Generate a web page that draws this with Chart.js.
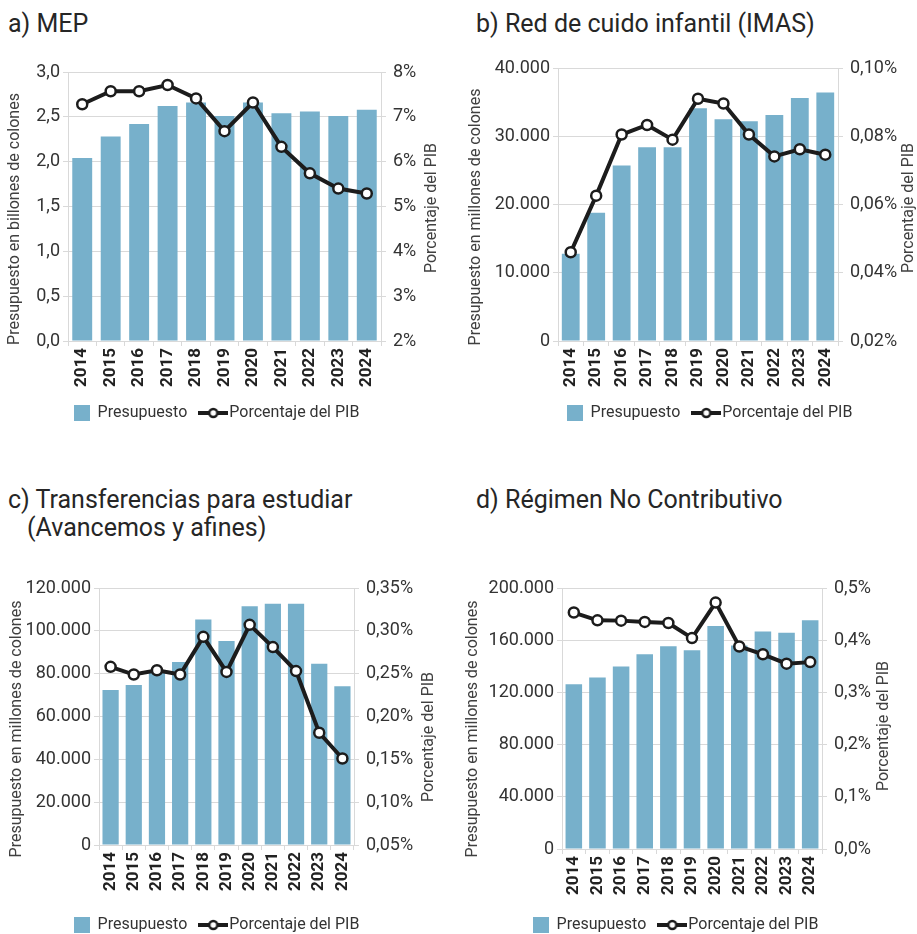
<!DOCTYPE html>
<html>
<head>
<meta charset="utf-8">
<script src="https://cdn.jsdelivr.net/npm/chart.js@4.4.1/dist/chart.umd.min.js"></script>
<style>
  html, body { margin: 0; padding: 0; background: #fff; overflow: hidden; }
  body { width: 917px; height: 934px; position: relative; font-family: Roboto, sans-serif; }
  .titulo { position: absolute; font-size: 25px; line-height: 28px; color: #262626; white-space: nowrap; }
  .panel { position: absolute; }
</style>
</head>
<body>
<div class="titulo" style="left:8px;top:10px">a) MEP</div>
<div class="titulo" style="left:476px;top:10px">b) Red de cuido infantil (IMAS)</div>
<div class="titulo" style="left:8px;top:486px">c) Transferencias para estudiar<div style="margin-left:19px">(Avancemos y afines)</div></div>
<div class="titulo" style="left:476px;top:486px">d) Régimen No Contributivo</div>

<div class="panel" style="left:0px;top:40px;width:455px;height:391px"><canvas id="chartA"></canvas></div>
<div class="panel" style="left:460px;top:40px;width:457px;height:391px"><canvas id="chartB"></canvas></div>
<div class="panel" style="left:0px;top:560px;width:455px;height:383px"><canvas id="chartC"></canvas></div>
<div class="panel" style="left:460px;top:560px;width:457px;height:383px"><canvas id="chartD"></canvas></div>

<script>
// datos
const years = ['2014', '2015', '2016', '2017', '2018', '2019', '2020', '2021', '2022', '2023', '2024'];

// a) MEP (billones de colones / % PIB)
const mepPresupuesto = [2.04, 2.28, 2.42, 2.62, 2.66, 2.51, 2.66, 2.54, 2.56, 2.51, 2.58];
const mepPib = [7.28, 7.57, 7.57, 7.71, 7.41, 6.68, 7.32, 6.33, 5.74, 5.40, 5.29];

// b) Red de cuido (millones de colones / % PIB)
const imasPresupuesto = [12800, 18800, 25700, 28400, 28400, 34100, 32500, 32200, 33100, 35600, 36400];
const imasPib = [0.046, 0.0626, 0.0805, 0.0833, 0.079, 0.091, 0.0896, 0.0805, 0.0741, 0.0762, 0.0746];

// c) Avancemos y afines
const avancemosPresupuesto = [72400, 74700, 80500, 85400, 105300, 95200, 111500, 112700, 112700, 84600, 74100];
const avancemosPib = [0.258, 0.249, 0.254, 0.249, 0.293, 0.252, 0.307, 0.281, 0.253, 0.181, 0.151];

// d) Regimen No Contributivo
const rncPresupuesto = [126300, 131400, 139800, 149200, 155400, 152300, 170900, 156000, 166600, 165800, 175300];
const rncPib = [0.453, 0.438, 0.4375, 0.435, 0.433, 0.404, 0.472, 0.388, 0.373, 0.355, 0.358];

const legendNames = ['Presupuesto', 'Porcentaje del PIB'];

const colorBarra = '#77b0cb';
const colorLinea = '#1c1c1c';
const colorGrid = '#d9d9d9';
const colorTexto = '#333333';

// formatos
function miles(v) { return String(Math.round(v)).replace(/\B(?=(\d{3})+(?!\d))/g, '.'); }
function decimal(v, d) { return v.toFixed(d).replace('.', ','); }

// muestras de la leyenda
function swatchBarra() {
    const c = document.createElement('canvas');
    c.width = 16; c.height = 16;
    const g = c.getContext('2d');
    g.fillStyle = colorBarra;
    g.fillRect(0, 0, 16, 16);
    return c;
}
function swatchLinea() {
    const c = document.createElement('canvas');
    c.width = 30; c.height = 12;
    const g = c.getContext('2d');
    g.strokeStyle = colorLinea;
    g.lineWidth = 4;
    g.beginPath(); g.moveTo(0, 6); g.lineTo(30, 6); g.stroke();
    g.beginPath(); g.arc(15, 6, 4, 0, Math.PI * 2);
    g.fillStyle = '#fff'; g.fill();
    g.lineWidth = 2.5; g.stroke();
    return c;
}
const imgBarra = swatchBarra();
const imgLinea = swatchLinea();

// titulos de ejes (rotados hacia arriba en ambos lados)
const axisTitles = {
    id: 'axisTitles',
    afterDraw(chart, args, opts) {
        const ctx = chart.ctx;
        ctx.save();
        ctx.font = '16px Roboto';
        ctx.fillStyle = '#404040';
        ctx.textAlign = 'center';
        ctx.textBaseline = 'middle';
        opts.items.forEach(t => {
            ctx.save();
            ctx.translate(t.x, t.y);
            ctx.rotate(-Math.PI / 2);
            ctx.fillText(t.text, 0, 0);
            ctx.restore();
        });
        ctx.restore();
    }
};

// mover la leyenda horizontalmente sin tocar el area del grafico
const legendShift = {
    id: 'legendShift',
    afterLayout(chart, args, opts) {
        const l = chart.legend;
        if (l && opts.dx) {
            l.left += opts.dx;
            l.right += opts.dx;
        }
    }
};

function panel(id, p) {
    const ctx = document.getElementById(id).getContext('2d');
    return new Chart(ctx, {
        data: {
            labels: years,
            datasets: [{
                type: 'bar',
                label: legendNames[0],
                data: p.barras,
                backgroundColor: colorBarra,
                barPercentage: 0.7,
                categoryPercentage: 1,
                yAxisID: 'y',
                order: 1
            },
            {
                type: 'line',
                label: legendNames[1],
                data: p.linea,
                borderColor: colorLinea,
                borderWidth: 4,
                pointRadius: 5,
                pointBorderWidth: 2.5,
                pointBackgroundColor: '#ffffff',
                pointBorderColor: colorLinea,
                tension: 0,
                yAxisID: 'y2',
                order: 0
            }]
        },
        options: {
            responsive: true,
            maintainAspectRatio: false,
            animation: false,
            layout: { padding: { top: p.arriba, left: 0, right: 0, bottom: 0 } },
            plugins: {
                tooltip: { enabled: false },
                legend: {
                    position: 'bottom',
                    labels: {
                        usePointStyle: true,
                        boxWidth: 16,
                        boxHeight: 16,
                        padding: 18,
                        color: colorTexto,
                        font: { family: 'Roboto', size: 16 },
                        generateLabels: () => [
                            { text: legendNames[0], pointStyle: imgBarra, fillStyle: colorBarra, lineWidth: 0, hidden: false, datasetIndex: 0, fontColor: colorTexto },
                            { text: legendNames[1], pointStyle: imgLinea, fillStyle: '#fff', lineWidth: 0, hidden: false, datasetIndex: 1, fontColor: colorTexto }
                        ]
                    }
                },
                axisTitles: { items: p.titulos },
                legendShift: { dx: p.dxLeyenda }
            },
            scales: {
                x: {
                    grid: { drawOnChartArea: false, drawTicks: true, tickLength: 5, color: colorGrid, offset: true },
                    border: { color: colorGrid },
                    ticks: { autoSkip: false, minRotation: 90, maxRotation: 90, padding: 2, color: '#222', font: { family: 'Roboto', size: 17, weight: 'bold' } },
                    afterFit: (s) => { s.height = p.alturaX; }
                },
                y: {
                    position: 'left',
                    min: p.izq[0], max: p.izq[1],
                    grid: { color: colorGrid, tickLength: 5 },
                    border: { color: colorGrid },
                    ticks: { stepSize: p.izq[2], padding: 3, color: colorTexto, font: { family: 'Roboto', size: 18 }, callback: p.fmtIzq },
                    afterFit: (s) => { s.width = p.anchoIzq; }
                },
                y2: {
                    position: 'right',
                    min: p.der[0], max: p.der[1],
                    grid: { drawOnChartArea: false, color: colorGrid, tickLength: 5 },
                    border: { color: colorGrid },
                    ticks: { stepSize: p.der[2], padding: 7, color: colorTexto, font: { family: 'Roboto', size: 18 }, callback: p.fmtDer },
                    afterFit: (s) => { s.width = p.anchoDer; }
                }
            }
        },
        plugins: [axisTitles, legendShift]
    });
}

panel('chartA', {
    barras: mepPresupuesto, linea: mepPib,
    izq: [0, 3, 0.5], der: [2, 8, 1],
    fmtIzq: (v) => decimal(v, 1), fmtDer: (v) => decimal(v, 0) + '%',
    arriba: 32, anchoIzq: 68, anchoDer: 74, alturaX: 46, dxLeyenda: -11,
    titulos: [{ text: 'Presupuesto en billones de colones', x: 15, y: 179 },
              { text: 'Porcentaje del PIB', x: 432, y: 168 }]
});

panel('chartB', {
    barras: imasPresupuesto, linea: imasPib,
    izq: [0, 40000, 10000], der: [0.02, 0.10, 0.02],
    fmtIzq: miles, fmtDer: (v) => decimal(v, 2) + '%',
    arriba: 28, anchoIzq: 98, anchoDer: 79, alturaX: 46, dxLeyenda: 21,
    titulos: [{ text: 'Presupuesto en millones de colones', x: 16, y: 177 },
              { text: 'Porcentaje del PIB', x: 449, y: 168 }]
});

panel('chartC', {
    barras: avancemosPresupuesto, linea: avancemosPib,
    izq: [0, 120000, 20000], der: [0.05, 0.35, 0.05],
    fmtIzq: miles, fmtDer: (v) => decimal(v, 2) + '%',
    arriba: 28, anchoIzq: 99, anchoDer: 101, alturaX: 54, dxLeyenda: -11,
    titulos: [{ text: 'Presupuesto en millones de colones', x: 17, y: 169 },
              { text: 'Porcentaje del PIB', x: 429, y: 177 }]
});

panel('chartD', {
    barras: rncPresupuesto, linea: rncPib,
    izq: [0, 200000, 40000], der: [0, 0.5, 0.1],
    fmtIzq: miles, fmtDer: (v) => decimal(v, 1) + '%',
    arriba: 28, anchoIzq: 102, anchoDer: 95, alturaX: 50, dxLeyenda: -13,
    titulos: [{ text: 'Presupuesto en millones de colones', x: 13, y: 169 },
              { text: 'Porcentaje del PIB', x: 424, y: 166 }]
});
</script>
</body>
</html>
